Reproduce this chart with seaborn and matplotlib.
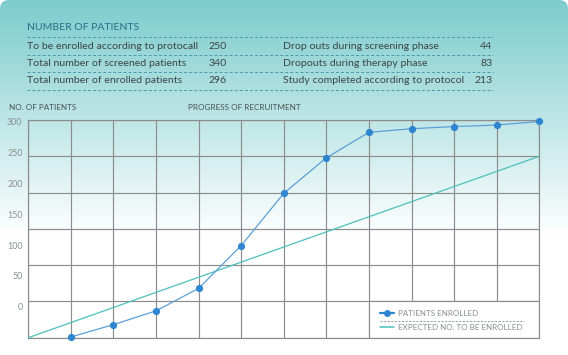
import numpy as np
import pandas as pd
import matplotlib
matplotlib.use("Agg")
import matplotlib.pyplot as plt
import seaborn as sns
from matplotlib.patches import FancyBboxPatch, Rectangle
from matplotlib.lines import Line2D

# ---------------- data ----------------
months = [1, 2, 3, 4, 5, 6, 7, 8, 9, 10, 11, 12]
patients_enrolled = [1, 18, 37, 68, 127, 199, 248, 283, 288, 291, 293, 298]
expected_x = [0, 12]
expected_enrolled = [0, 250]
y_tick_labels = ["300", "250", "200", "150", "100", "50", "0"]

table_left_labels = ["To be enrolled according to protocall",
                     "Total number of screened patients",
                     "Total number of enrolled patients"]
table_left_values = ["250", "340", "296"]
table_right_labels = ["Drop outs during screening phase",
                      "Dropouts during therapy phase",
                      "Study completed according to protocol"]
table_right_values = ["44", "83", "213"]

# ---------------- style ----------------
sns.set_theme(style="white")
FONT = ["Lato", "DejaVu Sans"]
plt.rcParams["font.family"] = FONT

W, H = 568, 355
fig = plt.figure(figsize=(W / 100, H / 100), dpi=100)
fig.patch.set_facecolor("white")
renderer = fig.canvas.get_renderer()

def fx(px):
    return px / W

def fy(py):
    return 1 - py / H

def fit(texts, target_px):
    """scale a group of texts so that the first one spans target_px"""
    w = texts[0].get_window_extent(renderer).width
    s = texts[0].get_fontsize() * target_px / w
    for t in texts:
        t.set_fontsize(s)
    return s

# background gradient panel with rounded top corners
bg = fig.add_axes([0, 0, 1, 1], zorder=-10)
bg.set_xlim(0, W)
bg.set_ylim(H, 0)
bg.axis("off")
top = np.array([124, 204, 205]) / 255.0
rows = np.arange(H)
t = np.clip(rows / 235.0, 0, 1)[:, None]
grad = (top[None, :] * (1 - t) + np.ones(3)[None, :] * t)[:, None, :]
im = bg.imshow(grad, extent=[0, W, H, 0], aspect="auto", interpolation="bilinear")
clip = FancyBboxPatch((0, 0), W, H + 30, boxstyle="round,pad=0,rounding_size=9",
                      transform=bg.transData, facecolor="none", edgecolor="none")
bg.add_patch(clip)
im.set_clip_path(clip)

# ---------------- table ----------------
TITLE_C = "#2b6b8a"
TXT_C = "#3c4446"
DASH_C = "#4a98ad"
title = fig.text(fx(27.3), fy(28), "NUMBER OF PATIENTS", color=TITLE_C, fontsize=8,
                 va="center", ha="left")
fit([title], 112)
for yy in [37, 54.7, 72.3, 90.3]:
    fig.add_artist(Line2D([fx(27), fx(492.5)], [fy(yy), fy(yy)], color=DASH_C,
                          lw=0.7, linestyle=(0, (3, 2.2)), transform=fig.transFigure))
row_y = [46.3, 63.6, 80.8]
table_texts = []
for i, yy in enumerate(row_y):
    table_texts.append(fig.text(fx(27.3), fy(yy), table_left_labels[i], color=TXT_C,
                                fontsize=8, va="center", ha="left"))
for i, yy in enumerate(row_y):
    table_texts.append(fig.text(fx(209), fy(yy), table_left_values[i], color=TXT_C,
                                fontsize=8, va="center", ha="left"))
    table_texts.append(fig.text(fx(283), fy(yy), table_right_labels[i], color=TXT_C,
                                fontsize=8, va="center", ha="left"))
    table_texts.append(fig.text(fx(492.5), fy(yy), table_right_values[i], color=TXT_C,
                                fontsize=8, va="center", ha="right"))
fit(table_texts, 171)

hdr = [fig.text(fx(9), fy(107.5), "PROGRESS OF RECRUITMENT", color="#4a5254",
                fontsize=6.2, va="center", ha="left")]
hdr[0].set_x(fx(188.5))
hdr.append(fig.text(fx(9), fy(107.5), "NO. OF PATIENTS", color="#4a5254",
                    fontsize=6.2, va="center", ha="left"))
fit(hdr, 113)

# ---------------- chart ----------------
L, R, T, B = 28.3, 539.3, 120.0, 337.7
ax = fig.add_axes([fx(L), fy(B), fx(R - L), (B - T) / H])
ax.set_facecolor("none")
GRID_C = "#8c8c8c"

ENR_LINE = "#5b9fd8"
ENR_MARK = "#2f86d0"
EXP_C = "#4cc0bd"
LBL_C = "#8a8f90"

df_enr = pd.DataFrame({"month": months, "patients": patients_enrolled})
df_exp = pd.DataFrame({"month": expected_x, "patients": expected_enrolled})

sns.lineplot(data=df_exp, x="month", y="patients", ax=ax, color=EXP_C,
             linewidth=0.9, zorder=3)
sns.lineplot(data=df_enr, x="month", y="patients", ax=ax, color=ENR_LINE,
             linewidth=0.9, marker="o", markersize=5.2, markerfacecolor=ENR_MARK,
             markeredgewidth=0, zorder=4, clip_on=False)

ax.set_xlim(0, 12)
ax.set_ylim(0, 300)
ax.set_xlabel("")
ax.set_ylabel("")

ax.set_xticks(range(0, 13))
ax.set_xticklabels([])
ax.set_yticks(range(0, 301, 50), minor=True)
label_pos = [297.6, 255.1, 212.6, 170.1, 127.6, 85.1, 42.6]
ax.set_yticks(label_pos)
ax.set_yticklabels(y_tick_labels)
ax.tick_params(axis="both", which="both", length=0)
ax.tick_params(axis="y", which="major", pad=4.2, labelsize=6.6, labelcolor=LBL_C)
for lab in ax.get_yticklabels():
    lab.set_family(FONT)
fit(ax.get_yticklabels(), 15.3)

ax.grid(False)
ax.xaxis.grid(True, which="major", color=GRID_C, linewidth=0.85)
ax.yaxis.grid(True, which="minor", color=GRID_C, linewidth=0.85)
ax.set_axisbelow(True)
for s in ax.spines.values():
    s.set_visible(True)
    s.set_color(GRID_C)
    s.set_linewidth(0.85)

# legend panel
ax.add_patch(Rectangle((8, 0), 4, 50, facecolor="white", edgecolor=GRID_C,
                       linewidth=0.85, zorder=2))
handles = [Line2D([], [], color=ENR_MARK, lw=1.6, marker="o", markersize=5,
                  markeredgewidth=0),
           Line2D([], [], color=EXP_C, lw=1.1)]
probe = fig.text(0, 0, "EXPECTED NO. TO BE ENROLLED", fontsize=6.6)
leg_fs = fit([probe], 123.5)
probe.remove()
leg = ax.legend(handles, ["PATIENTS ENROLLED", "EXPECTED NO. TO BE ENROLLED"],
                loc="center left", bbox_to_anchor=(fx(380), fy(320.7)),
                bbox_transform=fig.transFigure, frameon=False, fontsize=leg_fs,
                handlelength=1.75, handletextpad=0.45, labelspacing=0.85,
                borderaxespad=0, borderpad=0)
for txt in leg.get_texts():
    txt.set_color(LBL_C)
leg.set_zorder(6)
fig.add_artist(Line2D([fx(380), fx(524)], [fy(320.7), fy(320.7)], color=LBL_C,
                      lw=0.6, linestyle=(0, (2.5, 1.8)), transform=fig.transFigure,
                      zorder=7))

fig.savefig("out.png", dpi=100)
